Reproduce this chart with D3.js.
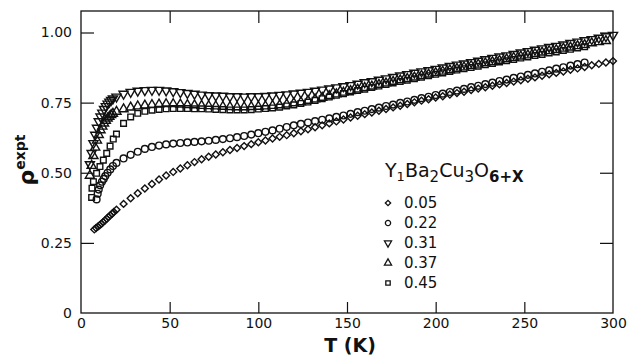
<!DOCTYPE html>
<html>
<head>
<meta charset="utf-8">
<script src="https://cdn.jsdelivr.net/npm/d3@7"></script>
<style>
  html, body { margin: 0; padding: 0; background: #fff; }
  svg { display: block; }
  text { font-family: "DejaVu Sans", "Liberation Sans", sans-serif; fill: #111; }
</style>
</head>
<body>
<svg id="chart" width="628" height="356"></svg>
<script>
// ---------- data ----------
const xTicks = [0, 50, 100, 150, 200, 250, 300];
const yTicks = [0, 0.25, 0.50, 0.75, 1.00];
const yTickLabels = ["0", "0.25", "0.50", "0.75", "1.00"];
const seriesNames = ["0.05", "0.22", "0.31", "0.37", "0.45"];

const T_GRID = [20,24,28,32,36,40,44,48,52,56,60,64,68,72,76,80,84,88,92,96,
  100,104,108,112,116,120,124,128,132,136,140,144,148,152,156,160,164,168,172,176,
  180,184,188,192,196,200,204,208,212,216,220,224,228,232,236,240,244,248,252,256,
  260,264,268,272,276,280,284,288,292,296,300];

// x = 0.05 (diamonds)
const lowT05 = [7.5,8.5,9.5,10.5,11.5,12.5,13.5,14.5,15.5,16.5,17.5,18.5];
const lowR05 = [0.298,0.303,0.308,0.313,0.318,0.324,0.330,0.336,0.342,0.348,0.354,0.360];
const rho05 = [0.368,0.389,0.409,0.427,0.444,0.460,0.476,0.490,0.503,0.515,
  0.527,0.538,0.548,0.557,0.565,0.573,0.581,0.588,0.595,0.602,
  0.609,0.615,0.622,0.628,0.634,0.641,0.648,0.655,0.662,0.669,
  0.676,0.683,0.690,0.697,0.703,0.709,0.715,0.721,0.727,0.733,
  0.739,0.745,0.751,0.757,0.762,0.768,0.773,0.779,0.784,0.789,
  0.795,0.800,0.805,0.810,0.815,0.820,0.825,0.830,0.835,0.840,
  0.846,0.851,0.856,0.861,0.867,0.872,0.877,0.883,0.888,0.893,0.898];

// x = 0.22 (circles)
const lowT22 = [8.8,9.4,10.0,10.8,11.8,12.8,13.7,15.0,16.5,18.0];
const lowR22 = [0.405,0.425,0.440,0.455,0.468,0.478,0.488,0.500,0.512,0.524];
const rho22 = [0.535,0.551,0.564,0.575,0.585,0.592,0.597,0.601,0.604,0.606,
  0.608,0.610,0.612,0.614,0.617,0.620,0.623,0.627,0.631,0.636,
  0.641,0.646,0.651,0.657,0.663,0.669,0.674,0.679,0.684,0.689,
  0.694,0.699,0.704,0.710,0.716,0.721,0.727,0.732,0.738,0.743,
  0.749,0.754,0.760,0.766,0.771,0.777,0.782,0.788,0.793,0.799,
  0.805,0.810,0.816,0.821,0.827,0.832,0.838,0.843,0.849,0.854,
  0.860,0.865,0.871,0.876,0.882,0.887,0.893];

// x = 0.31 (down triangles)
const lowT31 = [5,6,7,8,9,10,11,12,13,14,15,16,17,18];
const lowR31 = [0.530,0.570,0.605,0.635,0.660,0.683,0.700,0.714,0.727,0.737,0.746,0.753,0.759,0.764];
const rho31 = [0.771,0.781,0.788,0.792,0.794,0.795,0.795,0.793,0.790,0.787,
  0.784,0.781,0.778,0.776,0.775,0.774,0.772,0.772,0.771,0.772,
  0.772,0.773,0.775,0.777,0.779,0.782,0.785,0.788,0.792,0.796,
  0.800,0.804,0.808,0.812,0.817,0.822,0.826,0.831,0.836,0.841,
  0.846,0.851,0.856,0.861,0.865,0.870,0.875,0.880,0.885,0.889,
  0.894,0.899,0.904,0.909,0.914,0.918,0.923,0.928,0.933,0.938,
  0.943,0.948,0.952,0.957,0.962,0.967,0.972,0.976,0.981,0.986,0.991];

// x = 0.37 (up triangles)
const lowT37 = [5,6,7,8,9,10,11,12,13,14,15,16,17,18];
const lowR37 = [0.490,0.525,0.560,0.590,0.615,0.635,0.652,0.665,0.676,0.686,0.694,0.700,0.706,0.711];
const rho37 = [0.718,0.727,0.733,0.737,0.740,0.742,0.744,0.745,0.745,0.744,
  0.742,0.741,0.739,0.738,0.737,0.736,0.735,0.734,0.734,0.735,
  0.736,0.737,0.739,0.741,0.744,0.748,0.752,0.757,0.762,0.768,
  0.774,0.780,0.786,0.792,0.797,0.803,0.808,0.814,0.819,0.825,
  0.830,0.835,0.840,0.846,0.851,0.856,0.861,0.866,0.871,0.876,
  0.881,0.886,0.891,0.895,0.900,0.905,0.910,0.915,0.919,0.924,
  0.929,0.934,0.938,0.943,0.947,0.952,0.956,0.962,0.966,0.970];

// x = 0.45 (squares)
const lowT45 = [6.0,6.2,7.0,8.8,10.7,12.6,14.5,16.4,18.2];
const lowR45 = [0.412,0.445,0.468,0.498,0.522,0.545,0.569,0.595,0.620];
const rho45 = [0.638,0.676,0.699,0.712,0.719,0.723,0.726,0.728,0.729,0.729,
  0.729,0.728,0.728,0.727,0.726,0.725,0.724,0.724,0.724,0.725,
  0.727,0.729,0.731,0.734,0.738,0.742,0.747,0.752,0.758,0.764,
  0.770,0.776,0.782,0.788,0.793,0.798,0.804,0.809,0.815,0.820,
  0.825,0.830,0.835,0.841,0.846,0.851,0.856,0.861,0.866,0.871,
  0.875,0.880,0.885,0.890,0.895,0.899,0.904,0.909,0.913,0.918,
  0.922,0.927,0.931,0.936,0.940,0.945,0.949];

// ---------- build ----------
function build(lowT, lowR, rho) {
  const pts = lowT.map((t, i) => ({ t, r: lowR[i] }));
  rho.forEach((r, i) => pts.push({ t: T_GRID[i], r }));
  return pts;
}
const series = [
  { name: "0.05", shape: "diamond", pts: build(lowT05, lowR05, rho05) },
  { name: "0.22", shape: "circle",  pts: build(lowT22, lowR22, rho22) },
  { name: "0.31", shape: "down",    pts: build(lowT31, lowR31, rho31) },
  { name: "0.37", shape: "up",      pts: build(lowT37, lowR37, rho37) },
  { name: "0.45", shape: "square",  pts: build(lowT45, lowR45, rho45) }
];

const svg = d3.select("#chart");
const L = 81, R = 613, T = 11, B = 313;
const x = d3.scaleLinear().domain([0, 300]).range([L, R]);
const y = d3.scaleLinear().domain([0, 1]).range([B, B - 280.5]);

function symPath(shape, big) {
  const k = big ? 1 : 0.6;
  switch (shape) {
    case "diamond": return d3.symbol().type(d3.symbolSquare).size(24 * k)();
    case "circle":  return d3.symbol().type(d3.symbolCircle).size(36 * k)();
    case "down":
    case "up":      return d3.symbol().type(d3.symbolTriangle).size(36 * k)();
    case "square":  return d3.symbol().type(d3.symbolSquare).size(32 * k)();
  }
}
function symRot(shape) {
  return shape === "diamond" ? 45 : (shape === "down" ? 180 : 0);
}

// frame
svg.append("rect").attr("x", L).attr("y", T).attr("width", R - L).attr("height", B - T)
  .attr("fill", "none").attr("stroke", "#111").attr("stroke-width", 1.3);

// axes with inward ticks
const gx = svg.append("g").attr("transform", `translate(0,${B})`)
  .call(d3.axisBottom(x).tickValues(xTicks).tickSizeInner(-11).tickSizeOuter(0).tickPadding(4)
    .tickFormat(d3.format("d")));
const gxTop = svg.append("g").attr("transform", `translate(0,${T})`)
  .call(d3.axisTop(x).tickValues(xTicks.slice(1, -1)).tickSizeInner(-12).tickSizeOuter(0).tickFormat(""));
const gy = svg.append("g").attr("transform", `translate(${L},0)`)
  .call(d3.axisLeft(y).tickValues(yTicks).tickSizeInner(-13).tickSizeOuter(0).tickPadding(9)
    .tickFormat((d, i) => yTickLabels[i]));
const gyR = svg.append("g").attr("transform", `translate(${R},0)`)
  .call(d3.axisRight(y).tickValues(yTicks.slice(1)).tickSizeInner(-13).tickSizeOuter(0).tickFormat(""));
[gx, gxTop, gy, gyR].forEach(g => {
  g.select(".domain").remove();
  g.selectAll(".tick line").attr("stroke", "#111").attr("stroke-width", 1.2);
  g.selectAll(".tick text").attr("font-size", 14).attr("fill", "#222")
    .attr("font-family", "DejaVu Sans, sans-serif");
});
gy.selectAll(".tick").filter(d => d === 0).select("line").remove();
gx.selectAll(".tick").filter(d => d === 0 || d === 300).select("line").remove();
gx.selectAll(".tick text").attr("dy", "0.75em");

// data markers
series.forEach(s => {
  svg.append("g").selectAll("path").data(s.pts).join("path")
    .attr("d", symPath(s.shape, true))
    .attr("transform", d => `translate(${x(d.t)},${y(d.r)}) rotate(${symRot(s.shape)})`)
    .attr("fill", "none").attr("stroke", "#111").attr("stroke-width", 1.4);
});

// axis titles
svg.append("text").attr("x", 350).attr("y", 352).attr("text-anchor", "middle")
  .attr("font-size", 19).attr("font-weight", "bold").text("T (K)");

const yl = svg.append("text").attr("transform", "translate(34,160) rotate(-90)")
  .attr("text-anchor", "middle").attr("font-weight", "bold");
yl.append("tspan").attr("font-size", 22).text("ρ");
yl.append("tspan").attr("font-size", 14).attr("dy", -9).text("expt");

// legend
const lg = svg.append("g");
const title = lg.append("text").attr("x", 385).attr("y", 177).attr("font-size", 19);
title.append("tspan").text("Y");
title.append("tspan").attr("font-size", 13).attr("dy", 4).text("1");
title.append("tspan").attr("dy", -4).text("Ba");
title.append("tspan").attr("font-size", 15).attr("dy", 5).text("2");
title.append("tspan").attr("dy", -5).text("Cu");
title.append("tspan").attr("font-size", 15).attr("dy", 5).text("3");
title.append("tspan").attr("dy", -5).text("O");
title.append("tspan").attr("font-size", 15).attr("font-weight", "bold").attr("dy", 5).text("6+X");

const rowY = d3.scalePoint().domain(seriesNames).range([203, 283]);
series.forEach(s => {
  lg.append("path").attr("d", symPath(s.shape, false))
    .attr("transform", `translate(388,${rowY(s.name)}) rotate(${symRot(s.shape)})`)
    .attr("fill", "none").attr("stroke", "#111").attr("stroke-width", 1.3);
  lg.append("text").attr("x", 404).attr("y", rowY(s.name) + 5).attr("font-size", 15)
    .attr("fill", "#222").text(s.name);
});
</script>
</body>
</html>
